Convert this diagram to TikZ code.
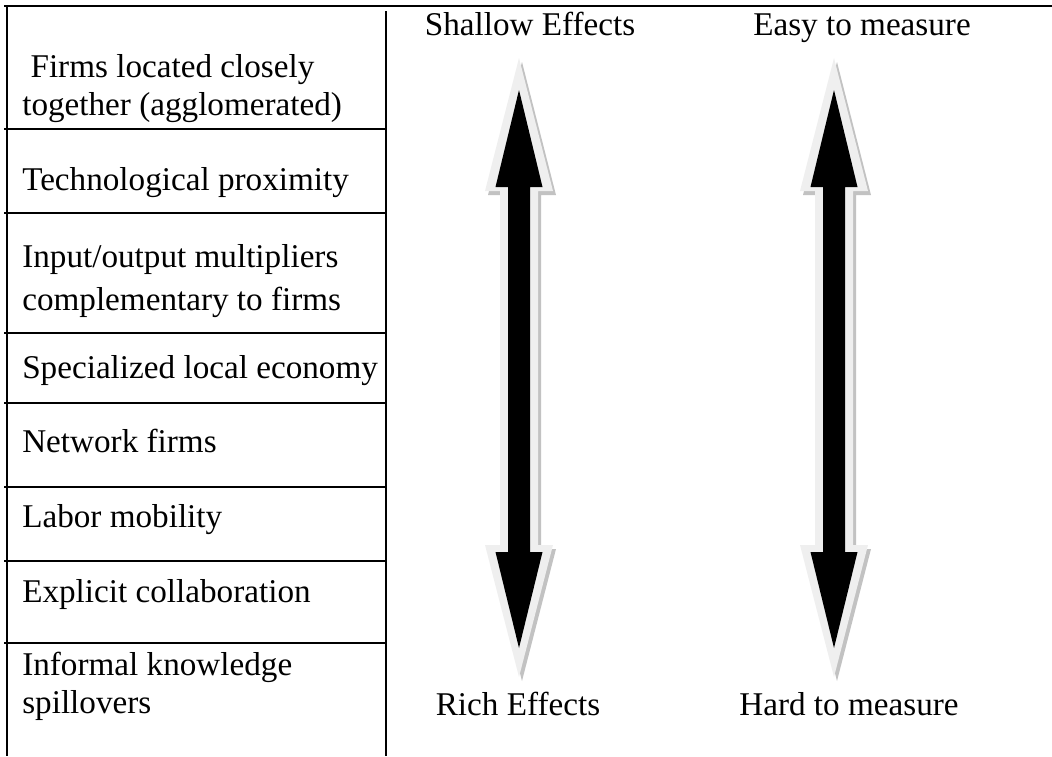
\documentclass[tikz,border=0pt]{standalone}
\usepackage{fontspec}
\setmainfont{Liberation Serif}
\definecolor{arrowrim}{HTML}{EFEFEF}
\definecolor{arrowshade}{HTML}{C2C2C2}

\begin{document}
\begin{tikzpicture}[x=0.25mm, y=-0.25mm, font=\fontsize{23.6}{30.5}\selectfont,
    rowtext/.style={anchor=base west, inner sep=0pt, align=left},
    endtext/.style={anchor=base, inner sep=0pt}]
    \useasboundingbox (0,0) rectangle (1052,756);

    % table frame
    \draw [line width=1.8pt] (4,6) -- (1052,6);
    \draw [line width=1.4pt] (7,6) -- (7,756);
    \draw [line width=1.4pt] (386,11) -- (386,756);
    \foreach \ry in {129, 213, 333, 403, 487, 561, 643}
        \draw [line width=1.1pt] (4,\ry) -- (386,\ry);

    % multi-line cells sit on their last baseline
    \node [rowtext] (firms) at (22,115) {\ Firms located closely\\[-3.5pt]together (agglomerated)};
    \node [rowtext] (techprox) at (22,190) {Technological proximity};
    \node [rowtext] (inoutmult) at (22,310) {Input/output multipliers\\complementary to firms};
    \node [rowtext] (speclocal) at (22,378) {Specialized local economy};
    \node [rowtext] (netfirms) at (22,452) {Network firms};
    \node [rowtext] (labormob) at (22,527) {Labor mobility};
    \node [rowtext] (explicit) at (22,602) {Explicit collaboration};
    \node [rowtext] (informal) at (22,713) {Informal knowledge\\[-3.5pt]spillovers};

    % double block arrows
    \foreach \ax in {519, 834} {
        \begin{scope}[shift={(\ax,0)}]
            \fill [arrowshade, shift={(3,4)}] (0,58) -- (34,191) -- (19,191) -- (19,545) -- (34,545) -- (0,677)
                -- (-34,545) -- (-19,545) -- (-19,191) -- (-34,191) -- cycle;
            \fill [arrowrim] (0,58) -- (34,191) -- (19,191) -- (19,545) -- (34,545) -- (0,677)
                -- (-34,545) -- (-19,545) -- (-19,191) -- (-34,191) -- cycle;
            \fill [black] (0,90) -- (23.5,187) -- (11,187) -- (11,552) -- (23.5,552) -- (0,648)
                -- (-23.5,552) -- (-11,552) -- (-11,187) -- (-23.5,187) -- cycle;
        \end{scope}
    }

    \node [endtext] (shallow) at (530,35) {Shallow Effects};
    \node [endtext] (easy) at (862,35) {Easy to measure};
    \node [endtext] (rich) at (518,715) {Rich Effects};
    \node [endtext] (hard) at (849,715) {Hard to measure};
\end{tikzpicture}
\end{document}
